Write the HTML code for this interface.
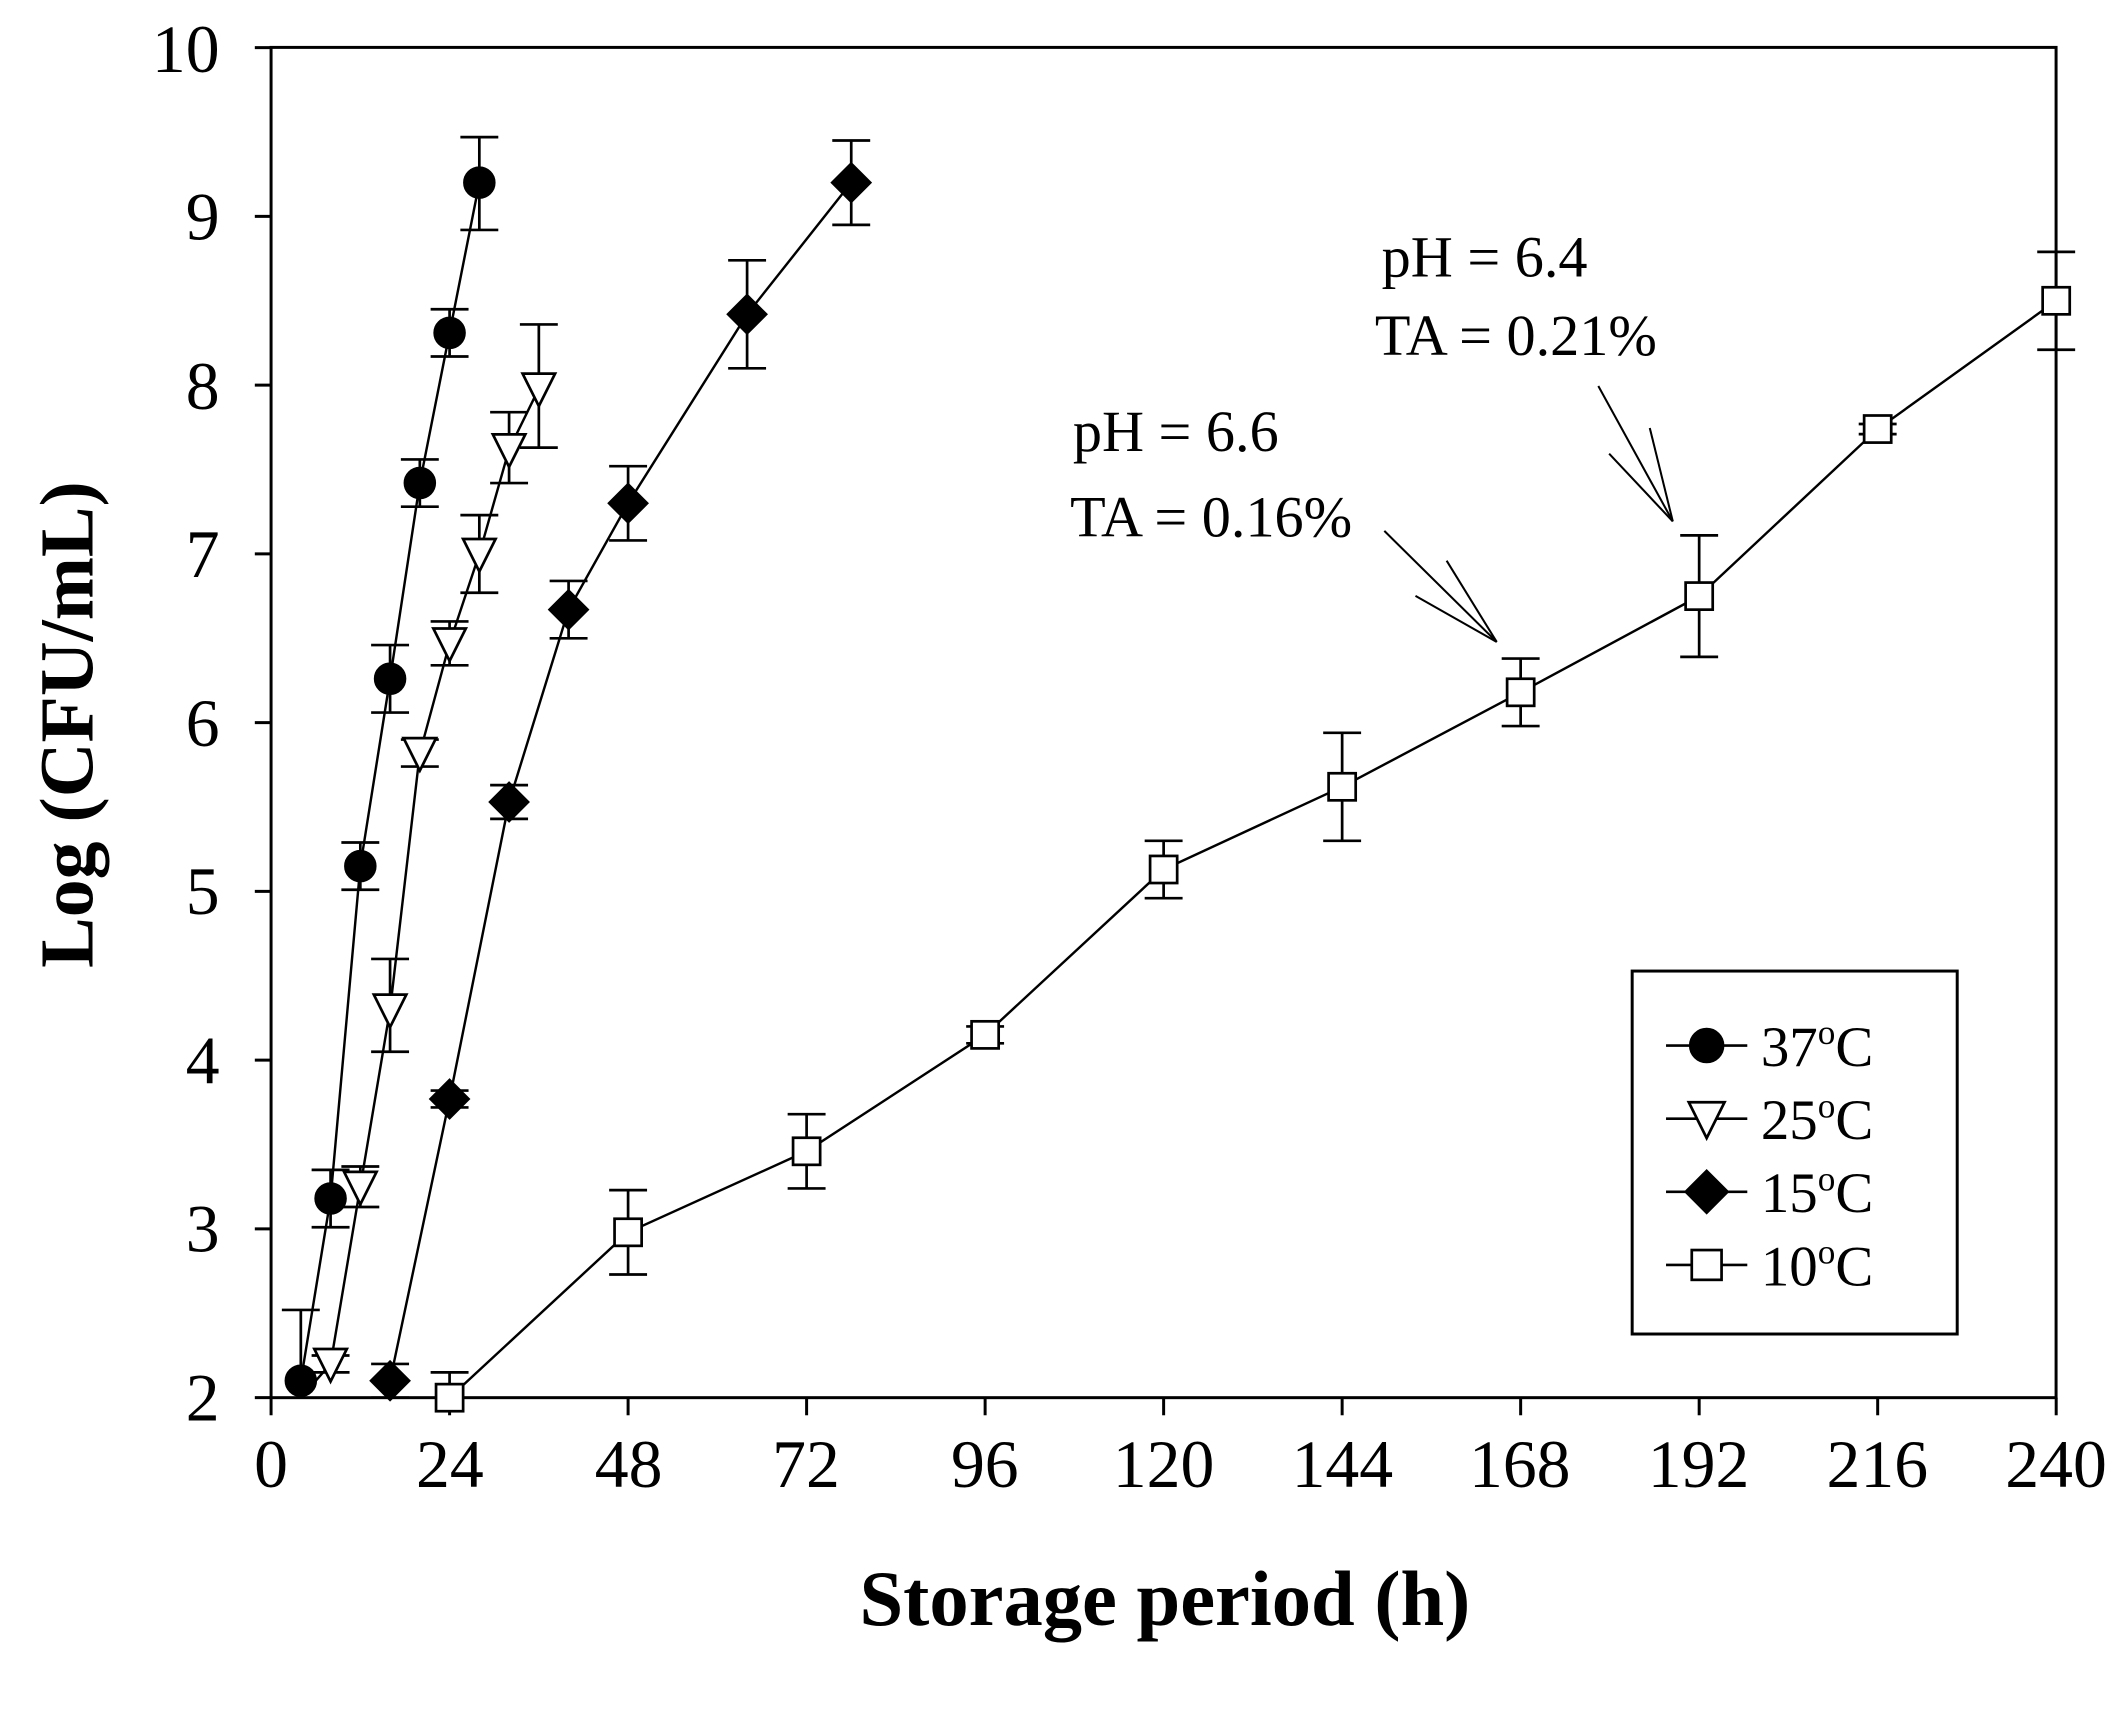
<!DOCTYPE html>
<html><head><meta charset="utf-8"><style>html,body{margin:0;padding:0;background:#fff}svg{display:block}</style></head>
<body>
<svg id="s" width="2124" height="1720" viewBox="0 0 1568 1270" xmlns="http://www.w3.org/2000/svg" font-family="'Liberation Serif', serif">
<rect width="1568" height="1270" fill="#fff"/>
<g id="ax" stroke="#000" stroke-width="2.2" fill="none">
<rect x="200" y="35" width="1318" height="997"/>
</g>
<g font-size="50" text-anchor="end">
<text x="162" y="1049">2</text><text x="162" y="924">3</text><text x="162" y="800">4</text>
<text x="162" y="675">5</text><text x="162" y="551">6</text><text x="162" y="426">7</text>
<text x="162" y="302">8</text><text x="162" y="177">9</text><text x="162" y="53">10</text>
</g>
<g font-size="50" text-anchor="middle">
<text x="200" y="1098">0</text><text x="332" y="1098">24</text><text x="464" y="1098">48</text>
<text x="595" y="1098">72</text><text x="727" y="1098">96</text><text x="859" y="1098">120</text>
<text x="991" y="1098">144</text><text x="1122" y="1098">168</text><text x="1254" y="1098">192</text>
<text x="1386" y="1098">216</text><text x="1518" y="1098">240</text>
</g>
<text x="860" y="1200" font-size="58" font-weight="bold" text-anchor="middle">Storage period (h)</text>
<text transform="translate(68,535) rotate(-90)" font-size="56" font-weight="bold" text-anchor="middle">Log (CFU/mL)</text>
<g font-size="43">
<text x="792" y="333">pH = 6.6</text><text x="790" y="396">TA = 0.16%</text>
<text x="1020" y="204">pH = 6.4</text><text x="1015" y="262">TA = 0.21%</text>
</g>
<g stroke="#000" stroke-width="1.5">
<line x1="1022" y1="392" x2="1105" y2="474"/><line x1="1045" y1="440" x2="1105" y2="474"/><line x1="1068" y1="414" x2="1105" y2="474"/>
<line x1="1180" y1="285" x2="1235" y2="385"/><line x1="1188" y1="335" x2="1235" y2="385"/><line x1="1218" y1="316" x2="1235" y2="385"/>
</g>
<rect x="1205" y="717" width="240" height="268" fill="#fff" stroke="#000" stroke-width="2.2"/>
<g font-size="42">
<text x="1300" y="787">37<tspan dy="-16" font-size="26">o</tspan><tspan dy="16">C</tspan></text>
<text x="1300" y="841">25<tspan dy="-16" font-size="26">o</tspan><tspan dy="16">C</tspan></text>
<text x="1300" y="895">15<tspan dy="-16" font-size="26">o</tspan><tspan dy="16">C</tspan></text>
<text x="1300" y="949">10<tspan dy="-16" font-size="26">o</tspan><tspan dy="16">C</tspan></text>
</g>
<g id="g"></g>
</svg>
<script>
var NS="http://www.w3.org/2000/svg",g=document.getElementById('g'),ax=document.getElementById('ax');
function X(h){return 200+h*5.492}function Y(v){return 1032-(v-2)*124.6}
function el(t,a,p){var e=document.createElementNS(NS,t);for(var k in a)e.setAttribute(k,a[k]);(p||g).appendChild(e);return e}
for(var v=2;v<=10;v++)el('line',{x1:188,x2:200,y1:Y(v),y2:Y(v)},ax);
for(var h=0;h<=240;h+=24)el('line',{x1:X(h),x2:X(h),y1:1032,y2:1045},ax);
function mk(t,x,y,k){k=k||1;var s={stroke:'#000','stroke-width':2};
 if(t==0)el('circle',Object.assign({cx:x,cy:y,r:11*k,fill:'#000'},s));
 if(t==1)el('polygon',Object.assign({points:(x-12*k)+','+(y-11*k)+' '+(x+12*k)+','+(y-11*k)+' '+x+','+(y+13*k),fill:'#fff'},s));
 if(t==2)el('polygon',Object.assign({points:x+','+(y-14*k)+' '+(x+14*k)+','+y+' '+x+','+(y+14*k)+' '+(x-14*k)+','+y,fill:'#000'},s));
 if(t==3)el('rect',Object.assign({x:x-10*k,y:y-10*k,width:20*k,height:20*k,fill:'#fff'},s));}
var S=[
[0,[[4,2.1,.42,0],[8,3.18,.17,.17],[12,5.15,.14,.14],[16,6.26,.2,.2],[20,7.42,.14,.14],[24,8.31,.14,.14],[28,9.2,.27,.28]]],
[1,[[4,2.0,0,0],[8,2.2,.05,.05],[12,3.25,.12,.12],[16,4.3,.3,.25],[20,5.82,.08,.08],[24,6.47,.13,.13],[28,7.0,.23,.23],[32,7.62,.22,.2],[36,7.98,.38,.35]]],
[2,[[16,2.1,.1,.1],[24,3.77,.05,.05],[32,5.53,.1,.1],[40,6.67,.17,.17],[48,7.3,.22,.22],[64,8.42,.32,.32],[78,9.2,.25,.25]]],
[3,[[24,2.0,.15,0],[48,2.98,.25,.25],[72,3.46,.22,.22],[96,4.15,.05,.05],[120,5.13,.17,.17],[144,5.62,.32,.32],[168,6.18,.2,.2],[192,6.75,.36,.36],[216,7.74,.03,.03],[240,8.5,.29,.29]]]];
S.forEach(function(s){var t=s[0],d=s[1],pts=d.map(function(p){return X(p[0])+','+Y(p[1])}).join(' ');
 el('polyline',{points:pts,fill:'none',stroke:'#000','stroke-width':1.8});
 d.forEach(function(p,i){if(t==1&&i==0)return;var x=X(p[0]);
  if(p[2]>0){el('line',{x1:x,x2:x,y1:Y(p[1]),y2:Y(p[1]+p[2]),stroke:'#000','stroke-width':2});el('line',{x1:x-14,x2:x+14,y1:Y(p[1]+p[2]),y2:Y(p[1]+p[2]),stroke:'#000','stroke-width':2});}
  if(p[3]>0){el('line',{x1:x,x2:x,y1:Y(p[1]),y2:Y(p[1]-p[3]),stroke:'#000','stroke-width':2});el('line',{x1:x-14,x2:x+14,y1:Y(p[1]-p[3]),y2:Y(p[1]-p[3]),stroke:'#000','stroke-width':2});}
 });
 d.forEach(function(p,i){if(t==1&&i==0)return;mk(t,X(p[0]),Y(p[1]));});
});
[772,826,880,934].forEach(function(y,i){el('line',{x1:1230,x2:1290,y1:y,y2:y,stroke:'#000','stroke-width':2});mk(i,1260,y,1.1);});
</script>
</body></html>
